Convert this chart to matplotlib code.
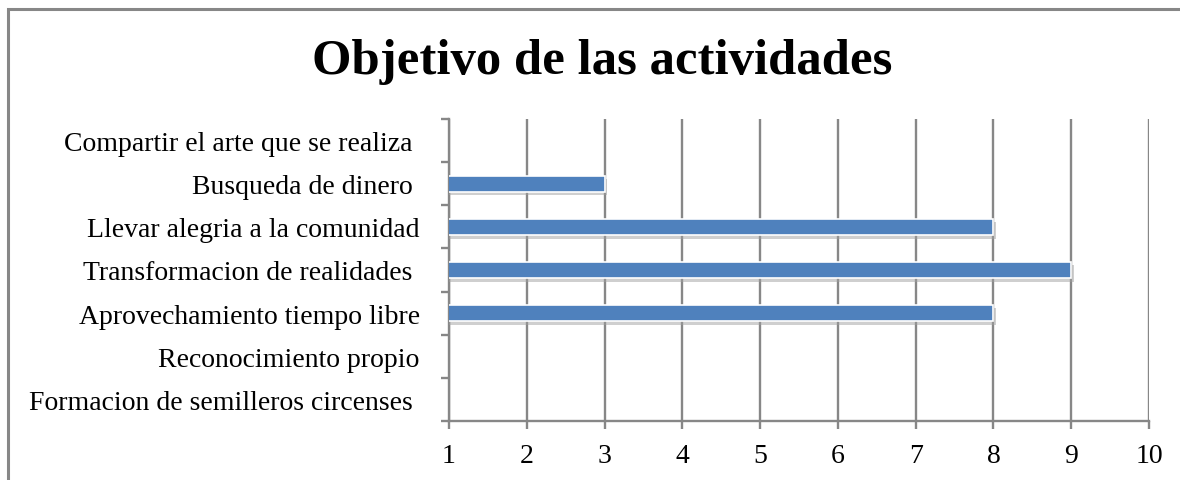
import matplotlib
matplotlib.use("Agg")
import matplotlib.pyplot as plt
import matplotlib.patheffects as pe
from matplotlib.patches import Rectangle

categories = [
    "Formacion de semilleros circenses ",
    "Reconocimiento propio",
    "Aprovechamiento tiempo libre",
    "Transformacion de realidades ",
    "Llevar alegria a la comunidad",
    "Busqueda de dinero ",
    "Compartir el arte que se realiza ",
]
values = [0, 0, 8, 9, 8, 3, 0]
x_ticks = [1, 2, 3, 4, 5, 6, 7, 8, 9, 10]
title = "Objetivo de las actividades"

plt.rcParams['font.family'] = ['Liberation Serif', 'DejaVu Serif']

fig = plt.figure(figsize=(11.8, 4.81), dpi=100)
fig.patches.append(Rectangle((8/1180, -0.1), 1.2, 1 - 10/481 + 0.1, transform=fig.transFigure,
                             fill=False, edgecolor='#878787', linewidth=2.2, zorder=0))

ax = fig.add_axes([449/1180, 1 - 422/481, 700/1180, 302/481])
ypos = list(range(len(categories)))
bars = ax.barh(ypos, values, height=0.38, color='#4F81BD', edgecolor='white', linewidth=1.2, zorder=3)
for b in bars:
    b.set_path_effects([pe.SimplePatchShadow(offset=(2, -2.5), shadow_rgbFace='#a0a0a0', alpha=0.5), pe.Normal()])

ax.set_xlim(1, 10)
ax.set_ylim(-0.5, len(categories) - 0.5)
ax.set_xticks(x_ticks)
ax.set_xticklabels([str(t) for t in x_ticks])
ax.set_yticks(ypos)
ax.set_yticklabels(categories)
ax.set_yticks([i - 0.5 for i in range(len(categories) + 1)], minor=True)

ax.grid(axis='x', color='#878787', linewidth=1.7, zorder=1)
ax.set_axisbelow(True)
for s in ['top', 'right']:
    ax.spines[s].set_visible(False)
for s in ['left', 'bottom']:
    ax.spines[s].set_color('#878787')
    ax.spines[s].set_linewidth(1.7)

ax.tick_params(axis='y', which='major', length=0, pad=21, labelsize=20)
ax.tick_params(axis='y', which='minor', length=6, width=1.7, color='#878787')
ax.tick_params(axis='x', length=6, width=1.7, color='#878787', pad=10, labelsize=20)

fig.text(602/1180, 1 - 62/481, title, ha='center', va='center', fontsize=36.5, fontweight='bold')

fig.savefig('out.png', dpi=100)
